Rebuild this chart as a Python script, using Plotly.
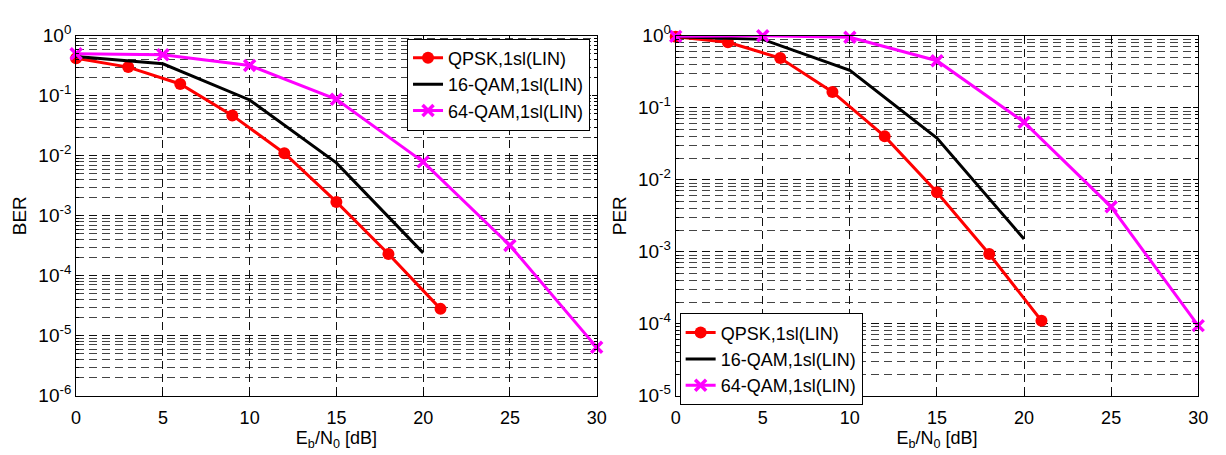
import plotly.graph_objects as go
import numpy as np

# ---------------- data ----------------
x_qpsk = [0, 3, 6, 9, 12, 15, 18, 21]
x_16 = [0, 5, 10, 15, 20]
x_64 = [0, 5, 10, 15, 20, 25, 30]

ber_qpsk = [0.42, 0.30, 0.157, 0.047, 0.011, 0.0017, 2.3e-4, 2.8e-5]
ber_16 = [0.45, 0.34, 0.085, 0.0076, 2.4e-4]
ber_64 = [0.50, 0.48, 0.32, 0.087, 0.0079, 3.2e-4, 6.4e-6]

per_qpsk = [0.97, 0.81, 0.49, 0.166, 0.040, 0.0067, 9.3e-4, 1.1e-4]
per_16 = [0.97, 0.89, 0.33, 0.038, 0.0015]
per_64 = [0.98, 1.0, 0.95, 0.45, 0.063, 0.0042, 9.4e-5]

names = ["QPSK,1sl(LIN)", "16-QAM,1sl(LIN)", "64-QAM,1sl(LIN)"]
x_ticks = [0, 5, 10, 15, 20, 25, 30]

W, H = 1226, 455
FONT = "Arial, Liberation Sans, Helvetica, sans-serif"

fig = go.Figure()

def add_set(xaxis, yaxis, legend, ys):
    fig.add_trace(go.Scatter(x=x_qpsk, y=ys[0], name=names[0], mode="lines+markers",
                             line=dict(color="#ff0000", width=3),
                             marker=dict(symbol="circle", size=12, color="#ff0000"),
                             xaxis=xaxis, yaxis=yaxis, legend=legend, cliponaxis=False))
    fig.add_trace(go.Scatter(x=x_16, y=ys[1], name=names[1], mode="lines",
                             line=dict(color="#000000", width=3),
                             xaxis=xaxis, yaxis=yaxis, legend=legend, cliponaxis=False))
    fig.add_trace(go.Scatter(x=x_64, y=ys[2], name=names[2], mode="lines+markers",
                             line=dict(color="#ff00ff", width=3),
                             marker=dict(symbol="x-thin", size=11, color="#ff00ff",
                                         line=dict(color="#ff00ff", width=3.5)),
                             xaxis=xaxis, yaxis=yaxis, legend=legend, cliponaxis=False))

add_set("x", "y", "legend", [ber_qpsk, ber_16, ber_64])
add_set("x2", "y2", "legend2", [per_qpsk, per_16, per_64])

def px(v):
    return v / W

def py(v):
    return 1 - v / H

def yaxis_cfg(lo, hi, title, domain, anchor):
    majors = [10.0 ** k for k in range(lo, hi + 1)]
    texts = ["10<sup>%d</sup>" % k for k in range(lo, hi + 1)]
    minors = [m * 10.0 ** k for k in range(lo, hi) for m in range(2, 10)]
    return dict(type="log", range=[lo, hi], domain=domain, anchor=anchor,
                tickmode="array", tickvals=majors, ticktext=texts,
                ticks="inside", ticklen=5, tickcolor="black",
                showline=True, linecolor="black", linewidth=1, mirror="ticks",
                showgrid=True, gridcolor="#111111", gridwidth=1, griddash="8px,5px",
                zeroline=False,
                minor=dict(tickmode="array", tickvals=minors, ticks="inside", ticklen=3,
                           tickcolor="black", showgrid=True, gridcolor="#444444",
                           gridwidth=1, griddash="8px,5px"),
                tickfont=dict(family=FONT, size=19, color="black"),
                title=dict(text=title, font=dict(family=FONT, size=19, color="black"),
                           standoff=6))

def xaxis_cfg(domain, anchor):
    return dict(range=[0, 30], domain=domain, anchor=anchor,
                tickmode="array", tickvals=x_ticks,
                ticks="inside", ticklen=5, tickcolor="black",
                ticklabelstandoff=6,
                showline=True, linecolor="black", linewidth=1, mirror="ticks",
                showgrid=True, gridcolor="#111111", gridwidth=1, griddash="8px,5px",
                zeroline=False,
                tickfont=dict(family=FONT, size=18, color="black"),
                title=dict(text="E<sub>b</sub>/N<sub>0</sub> [dB]",
                           font=dict(family=FONT, size=18, color="black"), standoff=4))

ydom = [py(404), py(24)]
fig.update_layout(
    width=W, height=H,
    margin=dict(l=0, r=0, t=0, b=0),
    paper_bgcolor="white", plot_bgcolor="white",
    font=dict(family=FONT, color="black"),
    xaxis=xaxis_cfg([px(72), px(599)], "y"),
    yaxis=yaxis_cfg(-6, 0, "BER", ydom, "x"),
    xaxis2=xaxis_cfg([px(679), px(1208)], "y2"),
    yaxis2=yaxis_cfg(-5, 0, "PER", ydom, "x2"),
    legend=dict(x=px(407), y=py(27), xanchor="left", yanchor="top",
                bgcolor="white", bordercolor="black", borderwidth=1,
                font=dict(family=FONT, size=18, color="black"),
                tracegroupgap=0, itemwidth=30),
    legend2=dict(x=px(683), y=py(317), xanchor="left", yanchor="top",
                 bgcolor="white", bordercolor="black", borderwidth=1,
                 font=dict(family=FONT, size=18, color="black"),
                 tracegroupgap=0, itemwidth=30),
    showlegend=True,
)

fig.write_html("out.html")
